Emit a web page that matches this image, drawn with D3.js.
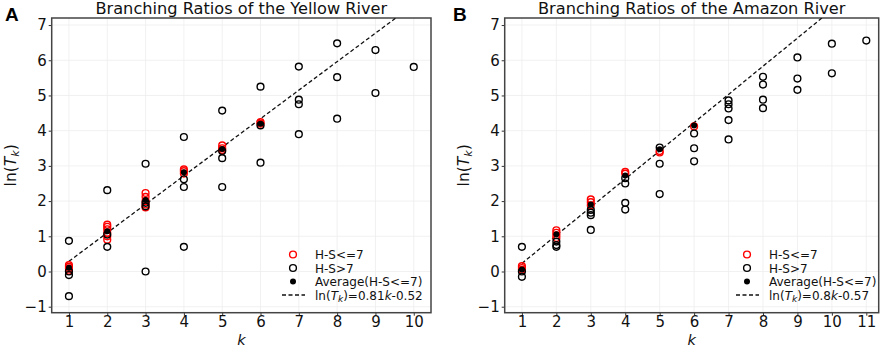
<!DOCTYPE html>
<html>
<head>
<meta charset="utf-8">
<script src="https://cdn.jsdelivr.net/npm/d3@7"></script>
<style>
body{margin:0;background:#fff;}
svg{display:block;font-family:"DejaVu Sans",sans-serif;}
</style>
</head>
<body>
<svg id="chart" width="886" height="348"></svg>
<script>
// ---------- data ----------
const yTicks = [-1, 0, 1, 2, 3, 4, 5, 6, 7];
const yellowXTicks = [1,2,3,4,5,6,7,8,9,10];
const amazonXTicks = [1,2,3,4,5,6,7,8,9,10,11];

// Yellow River: H-S<=7 (red)
const yellowRed = [
  [1,0.18],[1,0.13],[1,0.08],[1,0.02],
  [2,1.33],[2,1.27],[2,1.2],[2,1.1],[2,1.0],[2,0.9],
  [3,2.23],[3,2.12],[3,2.0],[3,1.9],[3,1.82],
  [4,2.9],[4,2.85],[4,2.78],
  [5,3.58],[5,3.5],[5,3.45],
  [6,4.24],[6,4.2]
];
// Yellow River: H-S>7 (black)
const yellowBlack = [
  [1,0.87],[1,-0.1],[1,-0.7],[1,0.0],
  [2,2.31],[2,1.05],[2,0.7],
  [3,3.06],[3,1.95],[3,1.85],[3,0.0],
  [4,3.82],[4,2.62],[4,2.4],[4,0.7],
  [5,4.57],[5,3.42],[5,3.22],[5,2.4],
  [6,5.25],[6,4.15],[6,3.09],
  [7,5.82],[7,4.88],[7,4.75],[7,3.9],
  [8,6.48],[8,5.52],[8,4.34],
  [9,6.29],[9,5.07],
  [10,5.81]
];
const yellowAvg = [[1,0.11],[2,1.14],[3,2.03],[4,2.82],[5,3.48],[6,4.2]];
const yellowFit = {slope:0.81, intercept:-0.52};

// Amazon River
const amazonRed = [
  [1,0.15],[1,0.1],[1,0.05],
  [2,1.17],[2,1.1],[2,1.03],[2,0.95],
  [3,2.05],[3,1.97],[3,1.88],
  [4,2.83],[4,2.78],
  [5,3.42],[5,3.38],
  [6,4.12]
];
const amazonBlack = [
  [1,0.7],[1,0.0],[1,-0.15],
  [2,0.85],[2,0.75],[2,0.7],
  [3,1.75],[3,1.67],[3,1.6],[3,1.18],
  [4,2.65],[4,2.5],[4,1.95],[4,1.76],
  [5,3.52],[5,3.06],[5,2.2],
  [6,3.92],[6,3.5],[6,3.13],
  [7,4.86],[7,4.75],[7,4.63],[7,4.3],[7,3.75],
  [8,5.53],[8,5.31],[8,4.88],[8,4.64],
  [9,6.08],[9,5.48],[9,5.16],
  [10,6.47],[10,5.63],
  [11,6.56]
];
const amazonAvg = [[1,0.06],[2,1.06],[3,1.9],[4,2.73],[5,3.47],[6,4.15]];
const amazonFit = {slope:0.8, intercept:-0.57};

const svg = d3.select("#chart");

function panel(cfg){
  const {left,right,top,bottom,xDomain,yDomain,xTicks,red,black,avg,fit,title,letter,letterX,legendX,fitText} = cfg;
  const x = d3.scaleLinear().domain(xDomain).range([left,right]);
  const y = d3.scaleLinear().domain(yDomain).range([bottom,top]);
  const g = svg.append("g");
  const clipId = "clip"+letter;
  svg.append("clipPath").attr("id",clipId).append("rect")
    .attr("x",left).attr("y",top).attr("width",right-left).attr("height",bottom-top);

  // grid
  g.append("g").selectAll("line").data(xTicks).join("line")
    .attr("x1",d=>x(d)).attr("x2",d=>x(d)).attr("y1",top).attr("y2",bottom)
    .attr("stroke","#ededed").attr("stroke-width",0.8);
  g.append("g").selectAll("line").data(yTicks).join("line")
    .attr("y1",d=>y(d)).attr("y2",d=>y(d)).attr("x1",left).attr("x2",right)
    .attr("stroke","#ededed").attr("stroke-width",0.8);

  // axes
  const xAxis = g.append("g").attr("transform",`translate(0,${bottom})`)
    .call(d3.axisBottom(x).tickValues(xTicks).tickSize(3).tickPadding(1).tickFormat(d3.format("d")));
  xAxis.select(".domain").remove();
  xAxis.selectAll("line").attr("stroke","#333");
  xAxis.selectAll("text").attr("font-size",15).attr("fill","#111").attr("font-family","DejaVu Sans");
  const yAxis = g.append("g").attr("transform",`translate(${left},0)`)
    .call(d3.axisLeft(y).tickValues(yTicks).tickSize(3).tickPadding(2)
      .tickFormat(d=>d<0?"\u2212"+Math.abs(d):d));
  yAxis.select(".domain").remove();
  yAxis.selectAll("line").attr("stroke","#333");
  yAxis.selectAll("text").attr("font-size",15).attr("fill","#111").attr("font-family","DejaVu Sans");

  // frame
  g.append("rect").attr("x",left).attr("y",top).attr("width",right-left).attr("height",bottom-top)
    .attr("fill","none").attr("stroke","#444").attr("stroke-width",1.5);

  const pg = g.append("g").attr("clip-path",`url(#${clipId})`);
  // fit line
  const lx = [1, xDomain[1]];
  pg.append("line")
    .attr("x1",x(lx[0])).attr("y1",y(fit.slope*lx[0]+fit.intercept))
    .attr("x2",x(lx[1])).attr("y2",y(fit.slope*lx[1]+fit.intercept))
    .attr("stroke","#111").attr("stroke-width",1.3).attr("stroke-dasharray","4,2.5");
  pg.selectAll("circle.r").data(red).join("circle").attr("class","r")
    .attr("cx",d=>x(d[0])).attr("cy",d=>y(d[1])).attr("r",3.4)
    .attr("fill","none").attr("stroke","#ff0000").attr("stroke-width",1.4);
  pg.selectAll("circle.b").data(black).join("circle").attr("class","b")
    .attr("cx",d=>x(d[0])).attr("cy",d=>y(d[1])).attr("r",3.4)
    .attr("fill","none").attr("stroke","#000").attr("stroke-width",1.4);
  pg.selectAll("circle.a").data(avg).join("circle").attr("class","a")
    .attr("cx",d=>x(d[0])).attr("cy",d=>y(d[1])).attr("r",3)
    .attr("fill","#000");

  // title
  g.append("text").attr("x",(left+right)/2).attr("y",top-4.5).attr("text-anchor","middle")
    .attr("font-size",16.2).attr("fill","#111").text(title);
  // letter
  g.append("text").attr("x",letterX).attr("y",20.5).attr("font-size",19).attr("font-weight","bold")
    .attr("font-family","Liberation Sans, Arial, sans-serif").attr("fill","#000").text(letter);
  // axis labels
  g.append("text").attr("x",(left+right)/2).attr("y",344.8).attr("text-anchor","middle")
    .attr("font-size",14.5).attr("font-style","italic").attr("fill","#111").text("k");
  const yl = g.append("text").attr("transform",`translate(${left-36},${(top+bottom)/2}) rotate(-90)`)
    .attr("text-anchor","middle").attr("font-size",15.5).attr("fill","#111");
  yl.append("tspan").text("ln(");
  yl.append("tspan").attr("font-style","italic").text("T");
  yl.append("tspan").attr("font-style","italic").attr("font-size",11).attr("dy",3).text("k");
  yl.append("tspan").attr("dy",-3).text(")");

  // legend
  const rows = [254.5, 268, 281.5, 295];
  const mx = legendX, tx = legendX + 22;
  const lg = g.append("g");
  lg.append("circle").attr("cx",mx).attr("cy",rows[0]).attr("r",3.4).attr("fill","none").attr("stroke","#ff0000").attr("stroke-width",1.4);
  lg.append("circle").attr("cx",mx).attr("cy",rows[1]).attr("r",3.4).attr("fill","none").attr("stroke","#000").attr("stroke-width",1.4);
  lg.append("circle").attr("cx",mx).attr("cy",rows[2]).attr("r",3).attr("fill","#000");
  lg.append("line").attr("x1",mx-11).attr("x2",mx+12).attr("y1",rows[3]).attr("y2",rows[3])
    .attr("stroke","#111").attr("stroke-width",1.3).attr("stroke-dasharray","4,2.5");
  const labels = ["H-S<=7","H-S>7","Average(H-S<=7)"];
  labels.forEach((t,i)=>{
    lg.append("text").attr("x",tx).attr("y",rows[i]+4.5).attr("font-size",12).attr("fill","#111").text(t);
  });
  const ft = lg.append("text").attr("x",tx).attr("y",rows[3]+4.5).attr("font-size",12).attr("fill","#111");
  ft.append("tspan").text("ln(");
  ft.append("tspan").attr("font-style","italic").text("T");
  ft.append("tspan").attr("font-style","italic").attr("font-size",9).attr("dy",2.5).text("k");
  ft.append("tspan").attr("dy",-2.5).text(")="+fitText[0]);
  ft.append("tspan").attr("font-style","italic").text("k");
  ft.append("tspan").text(fitText[1]);
}

panel({left:51.7,right:431,top:18,bottom:312.7,xDomain:[0.55,10.45],yDomain:[-1.17,7.2],
  xTicks:yellowXTicks,red:yellowRed,black:yellowBlack,avg:yellowAvg,fit:yellowFit,
  title:"Branching Ratios of the Yellow River",letter:"A",letterX:5,legendX:293,fitText:["0.81","-0.52"]});
panel({left:504.7,right:878.7,top:18,bottom:312.7,xDomain:[0.5,11.36],yDomain:[-1.17,7.2],
  xTicks:amazonXTicks,red:amazonRed,black:amazonBlack,avg:amazonAvg,fit:amazonFit,
  title:"Branching Ratios of the Amazon River",letter:"B",letterX:453,legendX:747,fitText:["0.8","-0.57"]});
</script>
</body>
</html>
